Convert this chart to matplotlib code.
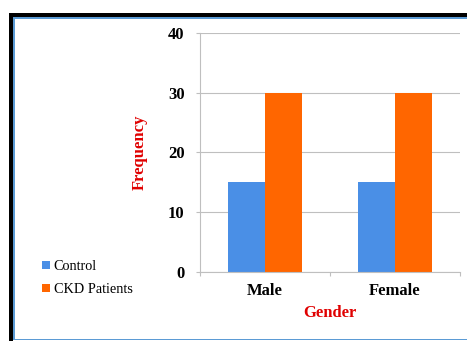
import numpy as np
import matplotlib.pyplot as plt
from matplotlib.patches import Rectangle

plt.rcParams['font.family'] = ['Liberation Serif', 'DejaVu Serif']

categories = ['Male', 'Female']
control = [15, 15]
ckd = [30, 30]
series_names = ['Control', 'CKD Patients']
yticks = [0, 10, 20, 30, 40]

W, H = 467, 341
fig = plt.figure(figsize=(W / 100, H / 100), dpi=100)


def px_rect(x0, y0, x1, y1, color):
	# rectangle in pixel coords (origin top-left)
	fig.add_artist(Rectangle((x0 / W, 1 - y1 / H), (x1 - x0) / W, (y1 - y0) / H,
		transform=fig.transFigure, color=color, lw=0))


# outer frame
px_rect(9, 13, 13, H, 'black')
px_rect(9, 13, W, 17, 'black')
px_rect(13, 17, 14.5, 340, '#5B9BD5')
px_rect(13, 17, W, 18.5, '#5B9BD5')
px_rect(13, 338.5, W, 340, '#5B9BD5')

ax = fig.add_axes([200 / W, 1 - 272 / H, 260 / W, (272 - 33) / H])

x = np.arange(len(categories))
bw = 0.285
b1 = ax.bar(x - bw / 2, control, bw, color='#4A8FE6', label=series_names[0])
b2 = ax.bar(x + bw / 2, ckd, bw, color='#FF6600', label=series_names[1])

ax.set_xlim(-0.5, len(categories) - 0.5)
ax.set_ylim(0, 40)
ax.set_yticks(yticks)
ax.set_yticklabels([str(t) for t in yticks], fontsize=12, fontweight='bold')
ax.set_xticks(x)
ax.set_xticklabels(categories, fontsize=12, fontweight='bold')
ax.set_xticks([-0.5, 0.5, 1.5], minor=True)
ax.tick_params(axis='x', which='major', length=0, pad=8)
ax.tick_params(axis='x', which='minor', length=3, color='#BFBFBF', width=0.8)
ax.tick_params(axis='y', length=3, color='#BFBFBF', width=0.8, pad=8)

ax.grid(axis='y', color='#BFBFBF', lw=0.8)
ax.set_axisbelow(True)
for s in ['top', 'right']:
	ax.spines[s].set_visible(False)
for s in ['left', 'bottom']:
	ax.spines[s].set_color('#BFBFBF')
	ax.spines[s].set_linewidth(0.8)

fig.text(330 / W, 1 - 313 / H, 'Gender', color='#E00000', fontsize=12,
	fontweight='bold', ha='center', va='center')
fig.text(140 / W, 1 - 152 / H, 'Frequency', color='#E00000', fontsize=12,
	fontweight='bold', ha='center', va='center', rotation=90)

fig.legend(handles=[b1, b2], loc='upper left', bbox_to_anchor=(35 / W, 1 - 253 / H),
	frameon=False, fontsize=10.3, handlelength=0.55, handleheight=0.55,
	handletextpad=0.25, labelspacing=0.7, borderpad=0)

fig.savefig('out.png', dpi=100)
